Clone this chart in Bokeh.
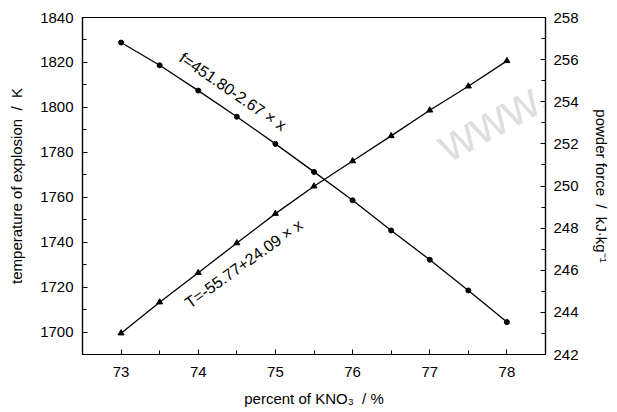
from bokeh.plotting import figure
from bokeh.models import Range1d, LinearAxis, FixedTicker, Label
from bokeh.embed import file_html
from bokeh.resources import INLINE

# Data
kno3 = [73.0, 73.5, 74.0, 74.5, 75.0, 75.5, 76.0, 76.5, 77.0, 77.5, 78.0]
temperature = [1699.5, 1713.3, 1726.4, 1739.6, 1752.7, 1764.9, 1776.1, 1787.3, 1798.7, 1809.4, 1820.7]
force = [256.81, 255.73, 254.53, 253.29, 252.00, 250.67, 249.32, 247.89, 246.50, 245.04, 243.54]

x_ticks = [73, 74, 75, 76, 77, 78]
x_minor = [72.5 + 0.5 * i for i in range(13)]
t_ticks = [1700, 1720, 1740, 1760, 1780, 1800, 1820, 1840]
t_minor = [1690 + 10 * i for i in range(16)]
f_ticks = [242, 244, 246, 248, 250, 252, 254, 256, 258]
f_minor = list(range(242, 259))

FONT = "Liberation Sans"
NB = "\u00a0"

p = figure(width=617, height=412, output_backend="svg", toolbar_location=None,
           x_range=Range1d(72.5, 78.5), y_range=Range1d(1690, 1840),
           min_border_left=82, min_border_right=72, min_border_top=17, min_border_bottom=58)
p.extra_y_ranges = {"f": Range1d(242, 258)}
p.xgrid.visible = False
p.ygrid.visible = False
p.outline_line_color = "black"
p.outline_line_width = 1.2
p.background_fill_color = "white"
p.border_fill_color = "white"

right = LinearAxis(y_range_name="f")
p.add_layout(right, "right")

def style(ax, ticks, minor, label):
    ax.ticker = FixedTicker(ticks=ticks, minor_ticks=minor)
    ax.axis_label = label
    ax.axis_line_color = "black"
    ax.axis_line_width = 1.2
    ax.major_tick_in = 5
    ax.major_tick_out = 0
    ax.minor_tick_in = 4
    ax.minor_tick_out = 0
    ax.major_tick_line_color = "black"
    ax.minor_tick_line_color = "black"
    ax.major_label_text_font = FONT
    ax.major_label_text_font_size = "15px"
    ax.major_label_text_color = "black"
    ax.axis_label_text_font = FONT
    ax.axis_label_text_font_size = "15px"
    ax.axis_label_text_font_style = "normal"
    ax.axis_label_text_color = "black"

style(p.xaxis[0], x_ticks, x_minor, "percent of KNO\u2083" + NB + NB + "/" + NB + "%")
style(p.yaxis[0], t_ticks, t_minor, "temperature of explosion" + NB + NB + "/" + NB + NB + "K")
style(right, f_ticks, f_minor, "powder force" + NB + NB + "/" + NB + NB + "kJ\u00b7kg\u207b\u00b9")
p.xaxis[0].major_label_standoff = 12
p.xaxis[0].axis_label_standoff = 10
p.yaxis[0].major_label_standoff = 9
p.yaxis[0].axis_label_standoff = 12
right.major_label_standoff = 8
right.axis_label_standoff = 11

# Watermark (light grey)
p.add_layout(Label(x=358, y=206, x_units="screen", y_units="screen", text="www.e", angle=0.5,
                   text_font=FONT, text_font_size="50px", text_color="#dedede",
                   text_align="left", text_baseline="alphabetic", level="underlay"))

# Series
p.line(kno3, temperature, line_color="black", line_width=1.3)
p.scatter(kno3, temperature, marker="triangle", size=6, fill_color="black", line_color="black")
p.line(kno3, force, y_range_name="f", line_color="black", line_width=1.3)
p.scatter(kno3, force, y_range_name="f", marker="circle", size=5, fill_color="black", line_color="black")

p.add_layout(Label(x=74.45, y=1807, text="f=451.80-2.67 \u00d7 x", angle=-0.6,
                   text_font=FONT, text_font_size="16px", text_color="black",
                   text_align="center", text_baseline="middle"))
p.add_layout(Label(x=74.59, y=1730.4, text="T=-55.77+24.09 \u00d7 x", angle=0.62,
                   text_font=FONT, text_font_size="16px", text_color="black",
                   text_align="center", text_baseline="middle"))

open("out.html", "w").write(file_html(p, INLINE))
